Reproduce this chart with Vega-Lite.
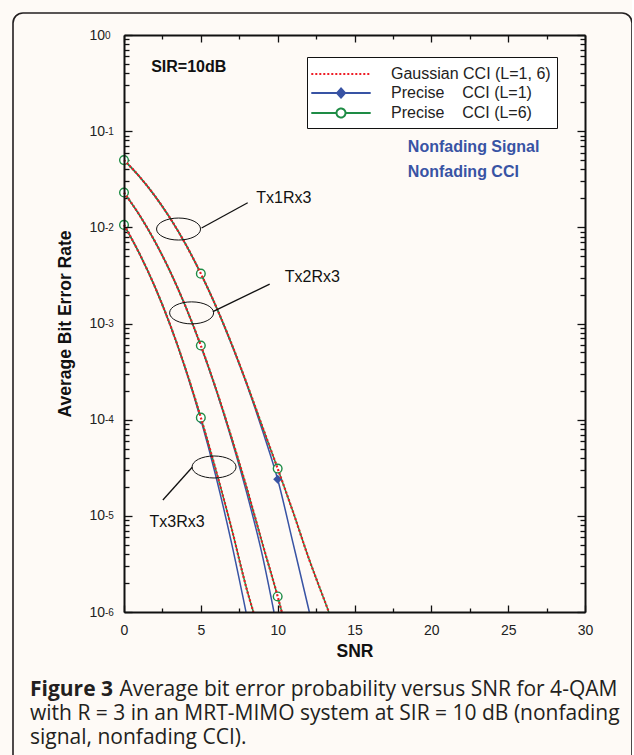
{
  "$schema": "https://vega.github.io/schema/vega-lite/v6.json",
  "width": 619,
  "height": 760,
  "autosize": "none",
  "padding": {"left": 13, "top": 13, "right": 0, "bottom": 0},
  "background": "#fefaf6",
  "title": {
    "text": "Figure 3",
    "subtitle": ["\u200b\u2003\u2003\u2003\u2003\u00a0Average bit error probability versus SNR for 4-QAM", "with R = 3 in an MRT-MIMO system at SIR = 10 dB (nonfading", "signal, nonfading CCI)."],
    "orient": "bottom",
    "anchor": "start",
    "frame": "group",
    "offset": -94,
    "dx": 17,
    "baseline": "top",
    "font": "Open Sans",
    "fontSize": 21,
    "fontWeight": "bold",
    "color": "#231f20",
    "subtitleFont": "Open Sans",
    "subtitleFontSize": 21,
    "subtitleFontWeight": "normal",
    "subtitleColor": "#231f20",
    "subtitleLineHeight": 24,
    "subtitlePadding": -21
  },
  "config": {
    "view": {"stroke": "#231f20", "strokeWidth": 1.6, "cornerRadius": 10, "fill": "#fefaf6"},
    "axis": {"grid": false, "labelFont": "Liberation Sans", "titleFont": "Liberation Sans", "tickColor": "#111111", "domainColor": "#111111", "labelColor": "#222222", "titleColor": "#111111", "labelFlush": false, "labelOverlap": false, "tickWidth": 1.3}
  },
  "datasets": {
    "curves": [
      {"cfg": "T1", "series": "G", "snr": 0, "ber": 0.05},
      {"cfg": "T1", "series": "G", "snr": 1, "ber": 0.0338},
      {"cfg": "T1", "series": "G", "snr": 2, "ber": 0.0213},
      {"cfg": "T1", "series": "G", "snr": 3, "ber": 0.01246},
      {"cfg": "T1", "series": "G", "snr": 4, "ber": 0.00672},
      {"cfg": "T1", "series": "G", "snr": 5, "ber": 0.0033},
      {"cfg": "T1", "series": "G", "snr": 6, "ber": 0.00149},
      {"cfg": "T1", "series": "G", "snr": 7, "ber": 0.000615},
      {"cfg": "T1", "series": "G", "snr": 8, "ber": 0.000235},
      {"cfg": "T1", "series": "G", "snr": 9, "ber": 0.000085},
      {"cfg": "T1", "series": "G", "snr": 10, "ber": 0.000031},
      {"cfg": "T1", "series": "G", "snr": 11, "ber": 0.000011},
      {"cfg": "T1", "series": "G", "snr": 12, "ber": 0.0000037},
      {"cfg": "T1", "series": "G", "snr": 13, "ber": 0.00000138},
      {"cfg": "T1", "series": "G", "snr": 13.33, "ber": 0.000001},
      {"cfg": "T1", "series": "P6", "snr": 0, "ber": 0.05},
      {"cfg": "T1", "series": "P6", "snr": 1, "ber": 0.0338},
      {"cfg": "T1", "series": "P6", "snr": 2, "ber": 0.0213},
      {"cfg": "T1", "series": "P6", "snr": 3, "ber": 0.01246},
      {"cfg": "T1", "series": "P6", "snr": 4, "ber": 0.00672},
      {"cfg": "T1", "series": "P6", "snr": 5, "ber": 0.0033},
      {"cfg": "T1", "series": "P6", "snr": 6, "ber": 0.00149},
      {"cfg": "T1", "series": "P6", "snr": 7, "ber": 0.000615},
      {"cfg": "T1", "series": "P6", "snr": 8, "ber": 0.000235},
      {"cfg": "T1", "series": "P6", "snr": 9, "ber": 0.000085},
      {"cfg": "T1", "series": "P6", "snr": 10, "ber": 0.000031},
      {"cfg": "T1", "series": "P6", "snr": 11, "ber": 0.000011},
      {"cfg": "T1", "series": "P6", "snr": 12, "ber": 0.0000037},
      {"cfg": "T1", "series": "P6", "snr": 13, "ber": 0.00000138},
      {"cfg": "T1", "series": "P6", "snr": 13.33, "ber": 0.000001},
      {"cfg": "T1", "series": "P1", "snr": 0, "ber": 0.05},
      {"cfg": "T1", "series": "P1", "snr": 1, "ber": 0.0338},
      {"cfg": "T1", "series": "P1", "snr": 2, "ber": 0.0213},
      {"cfg": "T1", "series": "P1", "snr": 3, "ber": 0.01246},
      {"cfg": "T1", "series": "P1", "snr": 4, "ber": 0.00672},
      {"cfg": "T1", "series": "P1", "snr": 5, "ber": 0.0033},
      {"cfg": "T1", "series": "P1", "snr": 6, "ber": 0.00149},
      {"cfg": "T1", "series": "P1", "snr": 7, "ber": 0.000605},
      {"cfg": "T1", "series": "P1", "snr": 8, "ber": 0.00023},
      {"cfg": "T1", "series": "P1", "snr": 9, "ber": 0.000078},
      {"cfg": "T1", "series": "P1", "snr": 10, "ber": 0.000024},
      {"cfg": "T1", "series": "P1", "snr": 11, "ber": 0.0000052},
      {"cfg": "T1", "series": "P1", "snr": 12, "ber": 0.0000011},
      {"cfg": "T1", "series": "P1", "snr": 12.06, "ber": 0.000001},
      {"cfg": "T2", "series": "G", "snr": 0, "ber": 0.023},
      {"cfg": "T2", "series": "G", "snr": 1, "ber": 0.01347},
      {"cfg": "T2", "series": "G", "snr": 2, "ber": 0.00719},
      {"cfg": "T2", "series": "G", "snr": 3, "ber": 0.00348},
      {"cfg": "T2", "series": "G", "snr": 4, "ber": 0.00151},
      {"cfg": "T2", "series": "G", "snr": 5, "ber": 0.00059},
      {"cfg": "T2", "series": "G", "snr": 6, "ber": 0.000206},
      {"cfg": "T2", "series": "G", "snr": 7, "ber": 0.000065},
      {"cfg": "T2", "series": "G", "snr": 8, "ber": 0.0000192},
      {"cfg": "T2", "series": "G", "snr": 9, "ber": 0.0000052},
      {"cfg": "T2", "series": "G", "snr": 10, "ber": 0.00000145},
      {"cfg": "T2", "series": "G", "snr": 10.27, "ber": 0.000001},
      {"cfg": "T2", "series": "P6", "snr": 0, "ber": 0.023},
      {"cfg": "T2", "series": "P6", "snr": 1, "ber": 0.01347},
      {"cfg": "T2", "series": "P6", "snr": 2, "ber": 0.00719},
      {"cfg": "T2", "series": "P6", "snr": 3, "ber": 0.00348},
      {"cfg": "T2", "series": "P6", "snr": 4, "ber": 0.00151},
      {"cfg": "T2", "series": "P6", "snr": 5, "ber": 0.00059},
      {"cfg": "T2", "series": "P6", "snr": 6, "ber": 0.000206},
      {"cfg": "T2", "series": "P6", "snr": 7, "ber": 0.000065},
      {"cfg": "T2", "series": "P6", "snr": 8, "ber": 0.0000192},
      {"cfg": "T2", "series": "P6", "snr": 9, "ber": 0.0000052},
      {"cfg": "T2", "series": "P6", "snr": 10, "ber": 0.00000145},
      {"cfg": "T2", "series": "P6", "snr": 10.27, "ber": 0.000001},
      {"cfg": "T2", "series": "P1", "snr": 0, "ber": 0.023},
      {"cfg": "T2", "series": "P1", "snr": 1, "ber": 0.01347},
      {"cfg": "T2", "series": "P1", "snr": 2, "ber": 0.00719},
      {"cfg": "T2", "series": "P1", "snr": 3, "ber": 0.00348},
      {"cfg": "T2", "series": "P1", "snr": 4, "ber": 0.00151},
      {"cfg": "T2", "series": "P1", "snr": 5, "ber": 0.000585},
      {"cfg": "T2", "series": "P1", "snr": 6, "ber": 0.000202},
      {"cfg": "T2", "series": "P1", "snr": 7, "ber": 0.000062},
      {"cfg": "T2", "series": "P1", "snr": 8, "ber": 0.000017},
      {"cfg": "T2", "series": "P1", "snr": 9, "ber": 0.0000039},
      {"cfg": "T2", "series": "P1", "snr": 9.76, "ber": 0.000001},
      {"cfg": "T3", "series": "G", "snr": 0, "ber": 0.0106},
      {"cfg": "T3", "series": "G", "snr": 1, "ber": 0.00535},
      {"cfg": "T3", "series": "G", "snr": 2, "ber": 0.00243},
      {"cfg": "T3", "series": "G", "snr": 3, "ber": 0.00097},
      {"cfg": "T3", "series": "G", "snr": 4, "ber": 0.00034},
      {"cfg": "T3", "series": "G", "snr": 5, "ber": 0.000105},
      {"cfg": "T3", "series": "G", "snr": 6, "ber": 0.000029},
      {"cfg": "T3", "series": "G", "snr": 7, "ber": 0.0000074},
      {"cfg": "T3", "series": "G", "snr": 8, "ber": 0.0000017},
      {"cfg": "T3", "series": "G", "snr": 8.42, "ber": 0.000001},
      {"cfg": "T3", "series": "P6", "snr": 0, "ber": 0.0106},
      {"cfg": "T3", "series": "P6", "snr": 1, "ber": 0.00535},
      {"cfg": "T3", "series": "P6", "snr": 2, "ber": 0.00243},
      {"cfg": "T3", "series": "P6", "snr": 3, "ber": 0.00097},
      {"cfg": "T3", "series": "P6", "snr": 4, "ber": 0.00034},
      {"cfg": "T3", "series": "P6", "snr": 5, "ber": 0.000105},
      {"cfg": "T3", "series": "P6", "snr": 6, "ber": 0.000029},
      {"cfg": "T3", "series": "P6", "snr": 7, "ber": 0.0000074},
      {"cfg": "T3", "series": "P6", "snr": 8, "ber": 0.0000017},
      {"cfg": "T3", "series": "P6", "snr": 8.42, "ber": 0.000001},
      {"cfg": "T3", "series": "P1", "snr": 0, "ber": 0.0106},
      {"cfg": "T3", "series": "P1", "snr": 1, "ber": 0.00535},
      {"cfg": "T3", "series": "P1", "snr": 2, "ber": 0.00243},
      {"cfg": "T3", "series": "P1", "snr": 3, "ber": 0.00097},
      {"cfg": "T3", "series": "P1", "snr": 4, "ber": 0.000335},
      {"cfg": "T3", "series": "P1", "snr": 5, "ber": 0.0001},
      {"cfg": "T3", "series": "P1", "snr": 6, "ber": 0.000025},
      {"cfg": "T3", "series": "P1", "snr": 7, "ber": 0.0000052},
      {"cfg": "T3", "series": "P1", "snr": 7.94, "ber": 0.000001}
    ],
    "markers": [
      {"cfg": "T1", "series": "P6", "snr": 0, "ber": 0.05},
      {"cfg": "T1", "series": "P6", "snr": 5, "ber": 0.0033},
      {"cfg": "T1", "series": "P6", "snr": 10, "ber": 0.000031},
      {"cfg": "T2", "series": "P6", "snr": 0, "ber": 0.023},
      {"cfg": "T2", "series": "P6", "snr": 5, "ber": 0.00059},
      {"cfg": "T2", "series": "P6", "snr": 10, "ber": 0.00000145},
      {"cfg": "T3", "series": "P6", "snr": 0, "ber": 0.0106},
      {"cfg": "T3", "series": "P6", "snr": 5, "ber": 0.000105},
      {"cfg": "T1", "series": "P1", "snr": 0, "ber": 0.05},
      {"cfg": "T1", "series": "P1", "snr": 5, "ber": 0.0033},
      {"cfg": "T1", "series": "P1", "snr": 10, "ber": 0.000024},
      {"cfg": "T2", "series": "P1", "snr": 0, "ber": 0.023},
      {"cfg": "T2", "series": "P1", "snr": 5, "ber": 0.000585},
      {"cfg": "T3", "series": "P1", "snr": 0, "ber": 0.0106},
      {"cfg": "T3", "series": "P1", "snr": 5, "ber": 0.0001}
    ],
    "ellipses": [
      {"snr": 3.55, "ber": 0.0096},
      {"snr": 4.4, "ber": 0.00129},
      {"snr": 5.86, "ber": 0.0000322}
    ],
    "leaders": [
      {"snr": 5.05, "ber": 0.00985, "snr2": 8.05, "ber2": 0.018},
      {"snr": 5.785, "ber": 0.00133, "snr2": 9.48, "ber2": 0.00257},
      {"snr": 4.44, "ber": 0.000032, "snr2": 2.53, "ber2": 0.0000146}
    ],
    "txlabels": [
      {"snr": 8.61, "ber": 0.0203, "label": "Tx1Rx3"},
      {"snr": 10.46, "ber": 0.00307, "label": "Tx2Rx3"},
      {"snr": 1.66, "ber": 0.0000087, "label": "Tx3Rx3"}
    ],
    "sir": [{"snr": 1.77, "ber": 0.468, "label": "SIR=10dB"}],
    "nonfading": [
      {"snr": 18.47, "ber": 0.069, "label": "Nonfading Signal"},
      {"snr": 18.47, "ber": 0.0379, "label": "Nonfading CCI"}
    ]
  },
  "resolve": {"axis": {"x": "independent", "y": "independent"}},
  "layer": [
    {
      "data": {"name": "curves"},
      "transform": [{"filter": "datum.series == 'P1'"}],
      "mark": {"type": "line", "strokeWidth": 1.5, "interpolate": "monotone"},
      "encoding": {
        "x": {"field": "snr", "type": "quantitative", "scale": {"domain": [0, 30], "range": [111, 572], "nice": false, "zero": false},
          "axis": {"orient": "bottom", "offset": -161, "values": [0, 5, 10, 15, 20, 25, 30], "format": "d", "tickSize": -7, "domainWidth": 2, "labelFontSize": 14, "labelPadding": 18, "title": "SNR", "titleFontSize": 17.5, "titleFontWeight": "bold", "titlePadding": 5, "zindex": 1}},
        "y": {"field": "ber", "type": "quantitative", "scale": {"type": "log", "domain": [0.000001, 1], "range": [599, 22], "nice": false},
          "axis": {"orient": "left", "offset": -111, "values": [0.000001, 0.00001, 0.0001, 0.001, 0.01, 0.1, 1], "labelExpr": "'10'", "tickSize": -8, "domainWidth": 2, "labelFontSize": 14, "labelPadding": 27.5, "title": "Average Bit Error Rate", "titleFontSize": 17.5, "titleFontWeight": "bold", "titlePadding": 14, "zindex": 1}},
        "detail": {"field": "cfg"},
        "color": {"field": "series", "type": "nominal",
          "scale": {"domain": ["G", "P1", "P6"], "range": ["#ee1c25", "#3853a4", "#1e8c45"]},
          "legend": {
            "orient": "none", "legendX": 294, "legendY": 44, "title": null,
            "labelExpr": "datum.value == 'G' ? 'Gaussian CCI (L=1, 6)' : datum.value == 'P1' ? 'Precise\u00a0\u00a0\u00a0 CCI (L=1)' : 'Precise\u00a0\u00a0\u00a0 CCI (L=6)'",
            "labelFont": "Liberation Sans", "labelFontSize": 16, "labelColor": "#222222",
            "fillColor": "#ffffff", "strokeColor": "#111111", "padding": 6,
            "symbolSize": 400, "symbolOffset": 17, "labelOffset": 39, "rowPadding": 0,
            "encode": {"symbols": {"update": {
              "shape": {"signal": "datum.value == 'G' ? 'M-2.97,0H2.97' : datum.value == 'P1' ? 'M-2.97,0H2.97M0,-0.45L0.4,0L0,0.45L-0.4,0Z' : 'M-2.97,0H-0.45M0.45,0H2.97M0.45,0C0.45,0.2485,0.2485,0.45,0,0.45C-0.2485,0.45,-0.45,0.2485,-0.45,0C-0.45,-0.2485,-0.2485,-0.45,0,-0.45C0.2485,-0.45,0.45,-0.2485,0.45,0Z'"},
              "fill": {"signal": "datum.value == 'P1' ? '#3853a4' : datum.value == 'P6' ? '#ffffff' : 'transparent'"},
              "stroke": {"signal": "datum.value == 'G' ? '#ee1c25' : datum.value == 'P1' ? '#3853a4' : '#1e8c45'"},
              "strokeDash": {"signal": "datum.value == 'G' ? [2, 2] : [1, 0]"},
              "strokeWidth": {"value": 2},
              "opacity": {"value": 1}
            }}}
          }}
      }
    },
    {
      "data": {"name": "curves"},
      "transform": [{"filter": "datum.series == 'P6'"}],
      "mark": {"type": "line", "strokeWidth": 1.5, "interpolate": "monotone"},
      "encoding": {
        "x": {"field": "snr", "type": "quantitative", "scale": {"domain": [0, 30], "range": [111, 572], "nice": false, "zero": false},
          "axis": {"orient": "top", "offset": -22, "values": [0, 5, 10, 15, 20, 25, 30], "tickSize": -7, "domainWidth": 2, "labels": false, "title": null, "zindex": 1}},
        "y": {"field": "ber", "type": "quantitative", "scale": {"type": "log", "domain": [0.000001, 1], "range": [599, 22], "nice": false},
          "axis": {"orient": "right", "offset": -47, "values": [0.000001, 0.00001, 0.0001, 0.001, 0.01, 0.1, 1], "tickSize": -8, "domainWidth": 2, "labels": false, "title": null, "zindex": 1}},
        "detail": {"field": "cfg"},
        "color": {"field": "series", "type": "nominal", "scale": {"domain": ["G", "P1", "P6"], "range": ["#ee1c25", "#3853a4", "#1e8c45"]}}
      }
    },
    {
      "data": {"name": "markers"},
      "transform": [{"filter": "datum.series == 'P1'"}],
      "mark": {"type": "point", "shape": "diamond", "filled": true, "color": "#3853a4", "size": 80, "opacity": 1},
      "encoding": {
        "x": {"field": "snr", "type": "quantitative", "scale": {"domain": [0, 30], "range": [111, 572], "nice": false, "zero": false},
          "axis": {"orient": "bottom", "offset": -161, "values": [2.5, 7.5, 12.5, 17.5, 22.5, 27.5], "tickSize": -4, "labels": false, "domain": false, "title": null}},
        "y": {"field": "ber", "type": "quantitative", "scale": {"type": "log", "domain": [0.000001, 1], "range": [599, 22], "nice": false},
          "axis": {"orient": "left", "offset": -111, "values": [0.000002, 0.000003, 0.000004, 0.000005, 0.000006, 0.000007, 0.000008, 0.000009, 0.00002, 0.00003, 0.00004, 0.00005, 0.00006, 0.00007, 0.00008, 0.00009, 0.0002, 0.0003, 0.0004, 0.0005, 0.0006, 0.0007, 0.0008, 0.0009, 0.002, 0.003, 0.004, 0.005, 0.006, 0.007, 0.008, 0.009, 0.02, 0.03, 0.04, 0.05, 0.06, 0.07, 0.08, 0.09, 0.2, 0.3, 0.4, 0.5, 0.6, 0.7, 0.8, 0.9], "tickSize": -5, "labels": false, "domain": false, "title": null}}
      }
    },
    {
      "data": {"name": "markers"},
      "transform": [{"filter": "datum.series == 'P6'"}],
      "mark": {"type": "point", "shape": "circle", "filled": false, "fill": "#ffffff", "fillOpacity": 1, "stroke": "#1e8c45", "strokeWidth": 1.4, "size": 75, "opacity": 1},
      "encoding": {
        "x": {"field": "snr", "type": "quantitative", "scale": {"domain": [0, 30], "range": [111, 572], "nice": false, "zero": false},
          "axis": {"orient": "top", "offset": -22, "values": [2.5, 7.5, 12.5, 17.5, 22.5, 27.5], "tickSize": -4, "labels": false, "domain": false, "title": null}},
        "y": {"field": "ber", "type": "quantitative", "scale": {"type": "log", "domain": [0.000001, 1], "range": [599, 22], "nice": false},
          "axis": {"orient": "right", "offset": -47, "values": [0.000002, 0.000003, 0.000004, 0.000005, 0.000006, 0.000007, 0.000008, 0.000009, 0.00002, 0.00003, 0.00004, 0.00005, 0.00006, 0.00007, 0.00008, 0.00009, 0.0002, 0.0003, 0.0004, 0.0005, 0.0006, 0.0007, 0.0008, 0.0009, 0.002, 0.003, 0.004, 0.005, 0.006, 0.007, 0.008, 0.009, 0.02, 0.03, 0.04, 0.05, 0.06, 0.07, 0.08, 0.09, 0.2, 0.3, 0.4, 0.5, 0.6, 0.7, 0.8, 0.9], "tickSize": -5, "labels": false, "domain": false, "title": null}}
      }
    },
    {
      "data": {"name": "curves"},
      "transform": [{"filter": "datum.series == 'G'"}],
      "mark": {"type": "line", "strokeWidth": 2.2, "strokeDash": [2, 2], "strokeCap": "butt", "interpolate": "monotone"},
      "encoding": {
        "x": {"field": "snr", "type": "quantitative", "scale": {"domain": [0, 30], "range": [111, 572], "nice": false, "zero": false}, "axis": null},
        "y": {"field": "ber", "type": "quantitative", "scale": {"type": "log", "domain": [0.000001, 1], "range": [599, 22], "nice": false},
          "axis": {"orient": "left", "offset": -111, "values": [0.000001, 0.00001, 0.0001, 0.001, 0.01, 0.1, 1], "labelExpr": "'' + round(log(datum.value) / LN10)", "ticks": false, "domain": false, "labelAlign": "left", "labelPadding": 19.5, "labelFontSize": 10, "labelDy": -6, "title": null}},
        "detail": {"field": "cfg"},
        "color": {"field": "series", "type": "nominal", "scale": {"domain": ["G", "P1", "P6"], "range": ["#ee1c25", "#3853a4", "#1e8c45"]}}
      }
    },
    {
      "data": {"name": "ellipses"},
      "mark": {"type": "point", "shape": "M2.2,0C2.2,0.6075,1.215,1.1,0,1.1C-1.215,1.1,-2.2,0.6075,-2.2,0C-2.2,-0.6075,-1.215,-1.1,0,-1.1C1.215,-1.1,2.2,-0.6075,2.2,0Z", "filled": false, "stroke": "#111111", "strokeWidth": 1, "size": 400, "opacity": 1},
      "encoding": {
        "x": {"field": "snr", "type": "quantitative", "scale": {"domain": [0, 30], "range": [111, 572], "nice": false, "zero": false}, "axis": null},
        "y": {"field": "ber", "type": "quantitative", "scale": {"type": "log", "domain": [0.000001, 1], "range": [599, 22], "nice": false}, "axis": null}
      }
    },
    {
      "data": {"name": "leaders"},
      "mark": {"type": "rule", "stroke": "#111111", "strokeWidth": 1.3},
      "encoding": {
        "x": {"field": "snr", "type": "quantitative", "scale": {"domain": [0, 30], "range": [111, 572], "nice": false, "zero": false}, "axis": null},
        "y": {"field": "ber", "type": "quantitative", "scale": {"type": "log", "domain": [0.000001, 1], "range": [599, 22], "nice": false}, "axis": null},
        "x2": {"field": "snr2"},
        "y2": {"field": "ber2"}
      }
    },
    {
      "data": {"name": "txlabels"},
      "mark": {"type": "text", "align": "left", "baseline": "middle", "font": "Liberation Sans", "fontSize": 16, "color": "#111111"},
      "encoding": {
        "x": {"field": "snr", "type": "quantitative", "scale": {"domain": [0, 30], "range": [111, 572], "nice": false, "zero": false}, "axis": null},
        "y": {"field": "ber", "type": "quantitative", "scale": {"type": "log", "domain": [0.000001, 1], "range": [599, 22], "nice": false}, "axis": null},
        "text": {"field": "label"}
      }
    },
    {
      "data": {"name": "sir"},
      "mark": {"type": "text", "align": "left", "baseline": "middle", "font": "Liberation Sans", "fontSize": 16, "fontWeight": "bold", "color": "#111111"},
      "encoding": {
        "x": {"field": "snr", "type": "quantitative", "scale": {"domain": [0, 30], "range": [111, 572], "nice": false, "zero": false}, "axis": null},
        "y": {"field": "ber", "type": "quantitative", "scale": {"type": "log", "domain": [0.000001, 1], "range": [599, 22], "nice": false}, "axis": null},
        "text": {"field": "label"}
      }
    },
    {
      "data": {"name": "nonfading"},
      "mark": {"type": "text", "align": "left", "baseline": "middle", "font": "Liberation Sans", "fontSize": 16, "fontWeight": "bold", "color": "#3853a4"},
      "encoding": {
        "x": {"field": "snr", "type": "quantitative", "scale": {"domain": [0, 30], "range": [111, 572], "nice": false, "zero": false}, "axis": null},
        "y": {"field": "ber", "type": "quantitative", "scale": {"type": "log", "domain": [0.000001, 1], "range": [599, 22], "nice": false}, "axis": null},
        "text": {"field": "label"}
      }
    }
  ]
}
